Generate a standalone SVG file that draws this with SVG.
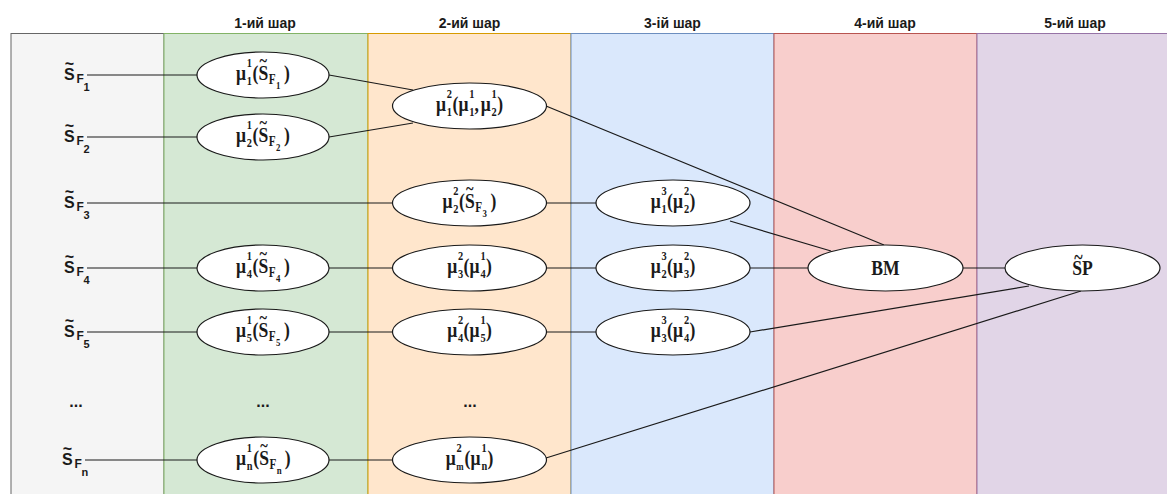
<svg xmlns="http://www.w3.org/2000/svg" width="1167" height="494" viewBox="0 0 1167 494">
<style>
.h{font-family:"Liberation Sans",Arial,sans-serif;font-weight:bold;font-size:14px;fill:#1a1a1a;text-anchor:middle}
.ls{font-family:"Liberation Sans",Arial,sans-serif;font-weight:bold;fill:#1a1a1a}
.lS{font-size:16px}.lF{font-size:12px}.lsub{font-size:11px}
.lt{font-size:16px;text-anchor:middle}
.dots{font-family:"Liberation Sans",Arial,sans-serif;font-weight:bold;font-size:16px;fill:#1a1a1a;text-anchor:middle}
.t{font-family:"Liberation Serif","Times New Roman",serif;font-weight:bold;fill:#1a1a1a}
.b{font-size:22px}.sp{font-size:13px}.f{font-size:14px}.ss{font-size:11px}
.tl{font-size:18px;text-anchor:middle}
.n{fill:#fff;stroke:#1a1a1a;stroke-width:1.2}
.c{fill:none;stroke:#1a1a1a;stroke-width:1.2}
</style>
<g id="lanes">
<rect x="11" y="33.5" width="153" height="470" fill="#f5f5f5" stroke="#666666"/>
<rect x="164" y="33.5" width="204" height="470" fill="#d5e8d4" stroke="#82b366"/>
<rect x="368" y="33.5" width="203" height="470" fill="#ffe6cc" stroke="#d79b00"/>
<rect x="571" y="33.5" width="203" height="470" fill="#dae8fc" stroke="#6c8ebf"/>
<rect x="774" y="33.5" width="203" height="470" fill="#f8cecc" stroke="#b85450"/>
<rect x="977" y="33.5" width="200" height="470" fill="#e1d5e7" stroke="#9673a6"/>
<text class="h" x="265" y="28">1-ий шар</text>
<text class="h" x="469.5" y="28">2-ий шар</text>
<text class="h" x="672.5" y="28">3-ій шар</text>
<text class="h" x="885" y="28">4-ий шар</text>
<text class="h" x="1075" y="28">5-ий шар</text>
</g>
<g id="connectors">
<path class="c" d="M87 75H200M87 137H200M87 203H396M87 268H200M87 332H200M85 460H200"/>
<path class="c" d="M329 75L413 90M329 137L413 123M329 268H396M329 332H396M329 460H396"/>
<path class="c" d="M546 203H600M546 268H600M546 332H600"/>
<path class="c" d="M546 106L884 245M730 221L831 251M750 268H811M963 268H1008"/>
<path class="c" d="M750 332L1029 286M546 458L1081 291"/>
</g>
<g id="in1"><text class="ls"><tspan class="lS" x="64" y="80">S</tspan><tspan class="lF" x="76.5" y="83">F</tspan><tspan class="lsub" x="83.5" y="91">1</tspan></text><text class="ls lt" x="69.5" y="69">~</text></g>
<g id="in2"><text class="ls"><tspan class="lS" x="64" y="142">S</tspan><tspan class="lF" x="76.5" y="145">F</tspan><tspan class="lsub" x="83.5" y="153">2</tspan></text><text class="ls lt" x="69.5" y="131">~</text></g>
<g id="in3"><text class="ls"><tspan class="lS" x="64" y="208">S</tspan><tspan class="lF" x="76.5" y="211">F</tspan><tspan class="lsub" x="83.5" y="219">3</tspan></text><text class="ls lt" x="69.5" y="197">~</text></g>
<g id="in4"><text class="ls"><tspan class="lS" x="64" y="273">S</tspan><tspan class="lF" x="76.5" y="276">F</tspan><tspan class="lsub" x="83.5" y="284">4</tspan></text><text class="ls lt" x="69.5" y="262">~</text></g>
<g id="in5"><text class="ls"><tspan class="lS" x="64" y="337">S</tspan><tspan class="lF" x="76.5" y="340">F</tspan><tspan class="lsub" x="83.5" y="348">5</tspan></text><text class="ls lt" x="69.5" y="326">~</text></g>
<g id="inn"><text class="ls"><tspan class="lS" x="62" y="465">S</tspan><tspan class="lF" x="74.5" y="468">F</tspan><tspan class="lsub" x="81.5" y="476">n</tspan></text><text class="ls lt" x="67.5" y="454">~</text></g>
<g id="dots"><text class="dots" x="76" y="407">...</text><text class="dots" x="263" y="407">...</text><text class="dots" x="470" y="407">...</text></g>
<g id="n1_1"><ellipse class="n" cx="263" cy="75" rx="66" ry="23"/><g transform="translate(236,75) scale(0.8,1)"><text class="t"><tspan class="b" x="0" y="5">μ</tspan><tspan class="sp" x="13.5" y="-8">1</tspan><tspan class="sp" x="13.5" y="10">1</tspan><tspan class="b" x="20.5" y="5">(</tspan><tspan class="b" x="28" y="5">S</tspan><tspan class="f" x="41" y="9">F</tspan><tspan class="ss" x="50" y="14">1</tspan><tspan class="b" x="60" y="5">)</tspan></text><text class="t tl" x="34" y="-8">~</text></g></g>
<g id="n1_2"><ellipse class="n" cx="263" cy="137" rx="66" ry="23"/><g transform="translate(236,137) scale(0.8,1)"><text class="t"><tspan class="b" x="0" y="5">μ</tspan><tspan class="sp" x="13.5" y="-8">1</tspan><tspan class="sp" x="13.5" y="10">2</tspan><tspan class="b" x="20.5" y="5">(</tspan><tspan class="b" x="28" y="5">S</tspan><tspan class="f" x="41" y="9">F</tspan><tspan class="ss" x="50" y="14">2</tspan><tspan class="b" x="60" y="5">)</tspan></text><text class="t tl" x="34" y="-8">~</text></g></g>
<g id="n1_4"><ellipse class="n" cx="263" cy="268" rx="66" ry="23"/><g transform="translate(236,268) scale(0.8,1)"><text class="t"><tspan class="b" x="0" y="5">μ</tspan><tspan class="sp" x="13.5" y="-8">1</tspan><tspan class="sp" x="13.5" y="10">4</tspan><tspan class="b" x="20.5" y="5">(</tspan><tspan class="b" x="28" y="5">S</tspan><tspan class="f" x="41" y="9">F</tspan><tspan class="ss" x="50" y="14">4</tspan><tspan class="b" x="60" y="5">)</tspan></text><text class="t tl" x="34" y="-8">~</text></g></g>
<g id="n1_5"><ellipse class="n" cx="263" cy="332" rx="66" ry="23"/><g transform="translate(236,332) scale(0.8,1)"><text class="t"><tspan class="b" x="0" y="5">μ</tspan><tspan class="sp" x="13.5" y="-8">1</tspan><tspan class="sp" x="13.5" y="10">5</tspan><tspan class="b" x="20.5" y="5">(</tspan><tspan class="b" x="28" y="5">S</tspan><tspan class="f" x="41" y="9">F</tspan><tspan class="ss" x="50" y="14">5</tspan><tspan class="b" x="60" y="5">)</tspan></text><text class="t tl" x="34" y="-8">~</text></g></g>
<g id="n1_n"><ellipse class="n" cx="263" cy="460" rx="66" ry="23"/><g transform="translate(236,460) scale(0.8,1)"><text class="t"><tspan class="b" x="0" y="5">μ</tspan><tspan class="sp" x="13.5" y="-8">1</tspan><tspan class="sp" x="13.5" y="10">n</tspan><tspan class="b" x="21.5" y="5">(</tspan><tspan class="b" x="29" y="5">S</tspan><tspan class="f" x="42" y="9">F</tspan><tspan class="ss" x="51" y="14">n</tspan><tspan class="b" x="61" y="5">)</tspan></text><text class="t tl" x="35" y="-8">~</text></g></g>
<g id="n2_a"><ellipse class="n" cx="469.5" cy="106" rx="77" ry="23"/><g transform="translate(436,106) scale(0.8,1)"><text class="t"><tspan class="b" x="0" y="5">μ</tspan><tspan class="sp" x="13.5" y="-8">2</tspan><tspan class="sp" x="13.5" y="10">1</tspan><tspan class="b" x="20.5" y="5">(</tspan><tspan class="b" x="28" y="5">μ</tspan><tspan class="sp" x="41.5" y="-8">1</tspan><tspan class="sp" x="41.5" y="10">1</tspan><tspan class="b" x="48" y="5">,</tspan><tspan class="b" x="56" y="5">μ</tspan><tspan class="sp" x="69.5" y="-8">1</tspan><tspan class="sp" x="69.5" y="10">2</tspan><tspan class="b" x="76.5" y="5">)</tspan></text></g></g>
<g id="n2_3"><ellipse class="n" cx="469.5" cy="203" rx="77" ry="23"/><g transform="translate(442.5,203) scale(0.8,1)"><text class="t"><tspan class="b" x="0" y="5">μ</tspan><tspan class="sp" x="13.5" y="-8">2</tspan><tspan class="sp" x="13.5" y="10">2</tspan><tspan class="b" x="20.5" y="5">(</tspan><tspan class="b" x="28" y="5">S</tspan><tspan class="f" x="41" y="9">F</tspan><tspan class="ss" x="50" y="14">3</tspan><tspan class="b" x="60" y="5">)</tspan></text><text class="t tl" x="34" y="-8">~</text></g></g>
<g id="n2_4"><ellipse class="n" cx="469.5" cy="268" rx="77" ry="23"/><g transform="translate(447.2,268) scale(0.8,1)"><text class="t"><tspan class="b" x="0" y="5">μ</tspan><tspan class="sp" x="13.5" y="-8">2</tspan><tspan class="sp" x="13.5" y="10">3</tspan><tspan class="b" x="20.5" y="5">(</tspan><tspan class="b" x="28" y="5">μ</tspan><tspan class="sp" x="41.5" y="-8">1</tspan><tspan class="sp" x="41.5" y="10">4</tspan><tspan class="b" x="48.5" y="5">)</tspan></text></g></g>
<g id="n2_5"><ellipse class="n" cx="469.5" cy="332" rx="77" ry="23"/><g transform="translate(447.2,332) scale(0.8,1)"><text class="t"><tspan class="b" x="0" y="5">μ</tspan><tspan class="sp" x="13.5" y="-8">2</tspan><tspan class="sp" x="13.5" y="10">4</tspan><tspan class="b" x="20.5" y="5">(</tspan><tspan class="b" x="28" y="5">μ</tspan><tspan class="sp" x="41.5" y="-8">1</tspan><tspan class="sp" x="41.5" y="10">5</tspan><tspan class="b" x="48.5" y="5">)</tspan></text></g></g>
<g id="n2_m"><ellipse class="n" cx="469.5" cy="460" rx="77" ry="23"/><g transform="translate(445.8,460) scale(0.8,1)"><text class="t"><tspan class="b" x="0" y="5">μ</tspan><tspan class="sp" x="13.5" y="-8">2</tspan><tspan class="ss" x="13" y="10">m</tspan><tspan class="b" x="23.5" y="5">(</tspan><tspan class="b" x="31" y="5">μ</tspan><tspan class="sp" x="44.5" y="-8">1</tspan><tspan class="sp" x="44.5" y="10">n</tspan><tspan class="b" x="52" y="5">)</tspan></text></g></g>
<g id="n3_3"><ellipse class="n" cx="673" cy="203" rx="77" ry="23"/><g transform="translate(650.7,203) scale(0.8,1)"><text class="t"><tspan class="b" x="0" y="5">μ</tspan><tspan class="sp" x="13.5" y="-8">3</tspan><tspan class="sp" x="13.5" y="10">1</tspan><tspan class="b" x="20.5" y="5">(</tspan><tspan class="b" x="28" y="5">μ</tspan><tspan class="sp" x="41.5" y="-8">2</tspan><tspan class="sp" x="41.5" y="10">2</tspan><tspan class="b" x="48.5" y="5">)</tspan></text></g></g>
<g id="n3_4"><ellipse class="n" cx="673" cy="268" rx="77" ry="23"/><g transform="translate(650.7,268) scale(0.8,1)"><text class="t"><tspan class="b" x="0" y="5">μ</tspan><tspan class="sp" x="13.5" y="-8">3</tspan><tspan class="sp" x="13.5" y="10">2</tspan><tspan class="b" x="20.5" y="5">(</tspan><tspan class="b" x="28" y="5">μ</tspan><tspan class="sp" x="41.5" y="-8">2</tspan><tspan class="sp" x="41.5" y="10">3</tspan><tspan class="b" x="48.5" y="5">)</tspan></text></g></g>
<g id="n3_5"><ellipse class="n" cx="673" cy="332" rx="77" ry="23"/><g transform="translate(650.7,332) scale(0.8,1)"><text class="t"><tspan class="b" x="0" y="5">μ</tspan><tspan class="sp" x="13.5" y="-8">3</tspan><tspan class="sp" x="13.5" y="10">3</tspan><tspan class="b" x="20.5" y="5">(</tspan><tspan class="b" x="28" y="5">μ</tspan><tspan class="sp" x="41.5" y="-8">2</tspan><tspan class="sp" x="41.5" y="10">4</tspan><tspan class="b" x="48.5" y="5">)</tspan></text></g></g>
<g id="bm"><ellipse class="n" cx="885.5" cy="268" rx="77.5" ry="23"/><g transform="translate(885.5,0) scale(0.8,1)"><text class="t b" x="0" y="275" text-anchor="middle">BM</text></g></g>
<g id="sp"><ellipse class="n" cx="1082.5" cy="268" rx="77.5" ry="23"/><g transform="translate(1082.5,0) scale(0.8,1)"><text class="t b" x="0" y="275" text-anchor="middle">SP</text><text class="t tl" x="-5" y="264" style="font-size:20px">~</text></g></g>
</svg>
